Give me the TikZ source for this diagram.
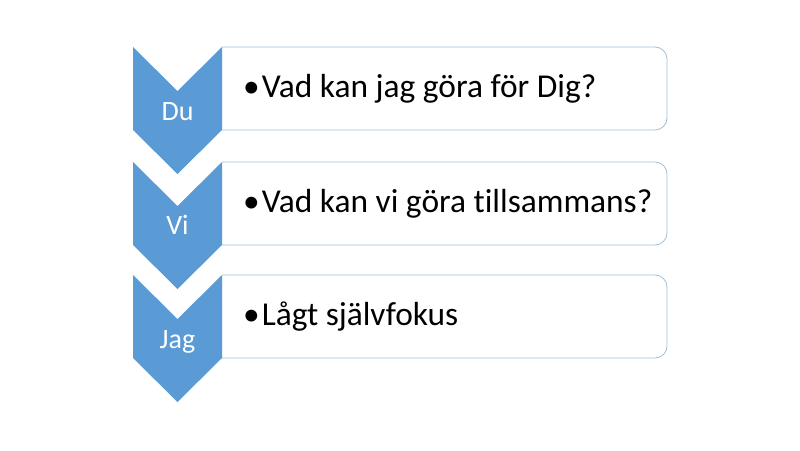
\documentclass[tikz,border=0pt]{standalone}
\usepackage{fontspec}
\setmainfont{Carlito}[Ligatures=NoCommon]
\usepackage{tikz}
\usetikzlibrary{positioning}
\definecolor{chevblue}{RGB}{91,155,213}
\definecolor{boxline}{RGB}{160,190,215}
\tikzset{
    %Define style for the chevrons
    chevron/.style={
           fill=chevblue,
           draw=none},
    %Define style for the text boxes
    textbox/.style={
           fill=white,
           draw=boxline,
           line width=0.8pt,
           rounded corners=12pt},
    chevlabel/.style={
           text=white,
           font=\fontsize{28}{30}\selectfont,
           anchor=base,
           inner sep=0pt},
    bullettext/.style={
           text=black,
           font=\fontsize{33.4}{36}\selectfont,
           anchor=base west,
           inner sep=0pt}
}
\begin{document}
\begin{tikzpicture}[x=1pt,y=-1pt]
\useasboundingbox (0,0) rectangle (800,450);

 %boxes
\draw[textbox] (222,47) -- (667,47) -- (667,130) [sharp corners] -- (222,130);
\draw[textbox] (222,162) -- (667,162) -- (667,245) [sharp corners] -- (222,245);
\draw[textbox] (222,275) -- (667,275) -- (667,358) [sharp corners] -- (222,358);

 %chevrons
\fill[chevron] (133,47) -- (177.5,91) -- (222,47) -- (222,130) -- (177.5,174) -- (133,130) -- cycle;
\fill[chevron] (133,162) -- (177.5,206) -- (222,162) -- (222,245) -- (177.5,289) -- (133,245) -- cycle;
\fill[chevron] (133,275) -- (177.5,319) -- (222,275) -- (222,358) -- (177.5,402) -- (133,358) -- cycle;

 %labels
\node[chevlabel] (du) at (177.5,120) {Du};
\node[chevlabel] (vi) at (177.5,234) {Vi};
\node[chevlabel] (jag) at (177.5,348) {Jag};
\node[bullettext] (t1) at (243,97) {•\hspace{2pt}Vad kan jag göra för Dig?};
\node[bullettext] (t2) at (243,212) {•\hspace{2pt}Vad kan vi göra tillsammans?};
\node[bullettext] (t3) at (243,325) {•\hspace{2pt}Lågt självfokus};
\end{tikzpicture}
\end{document}
